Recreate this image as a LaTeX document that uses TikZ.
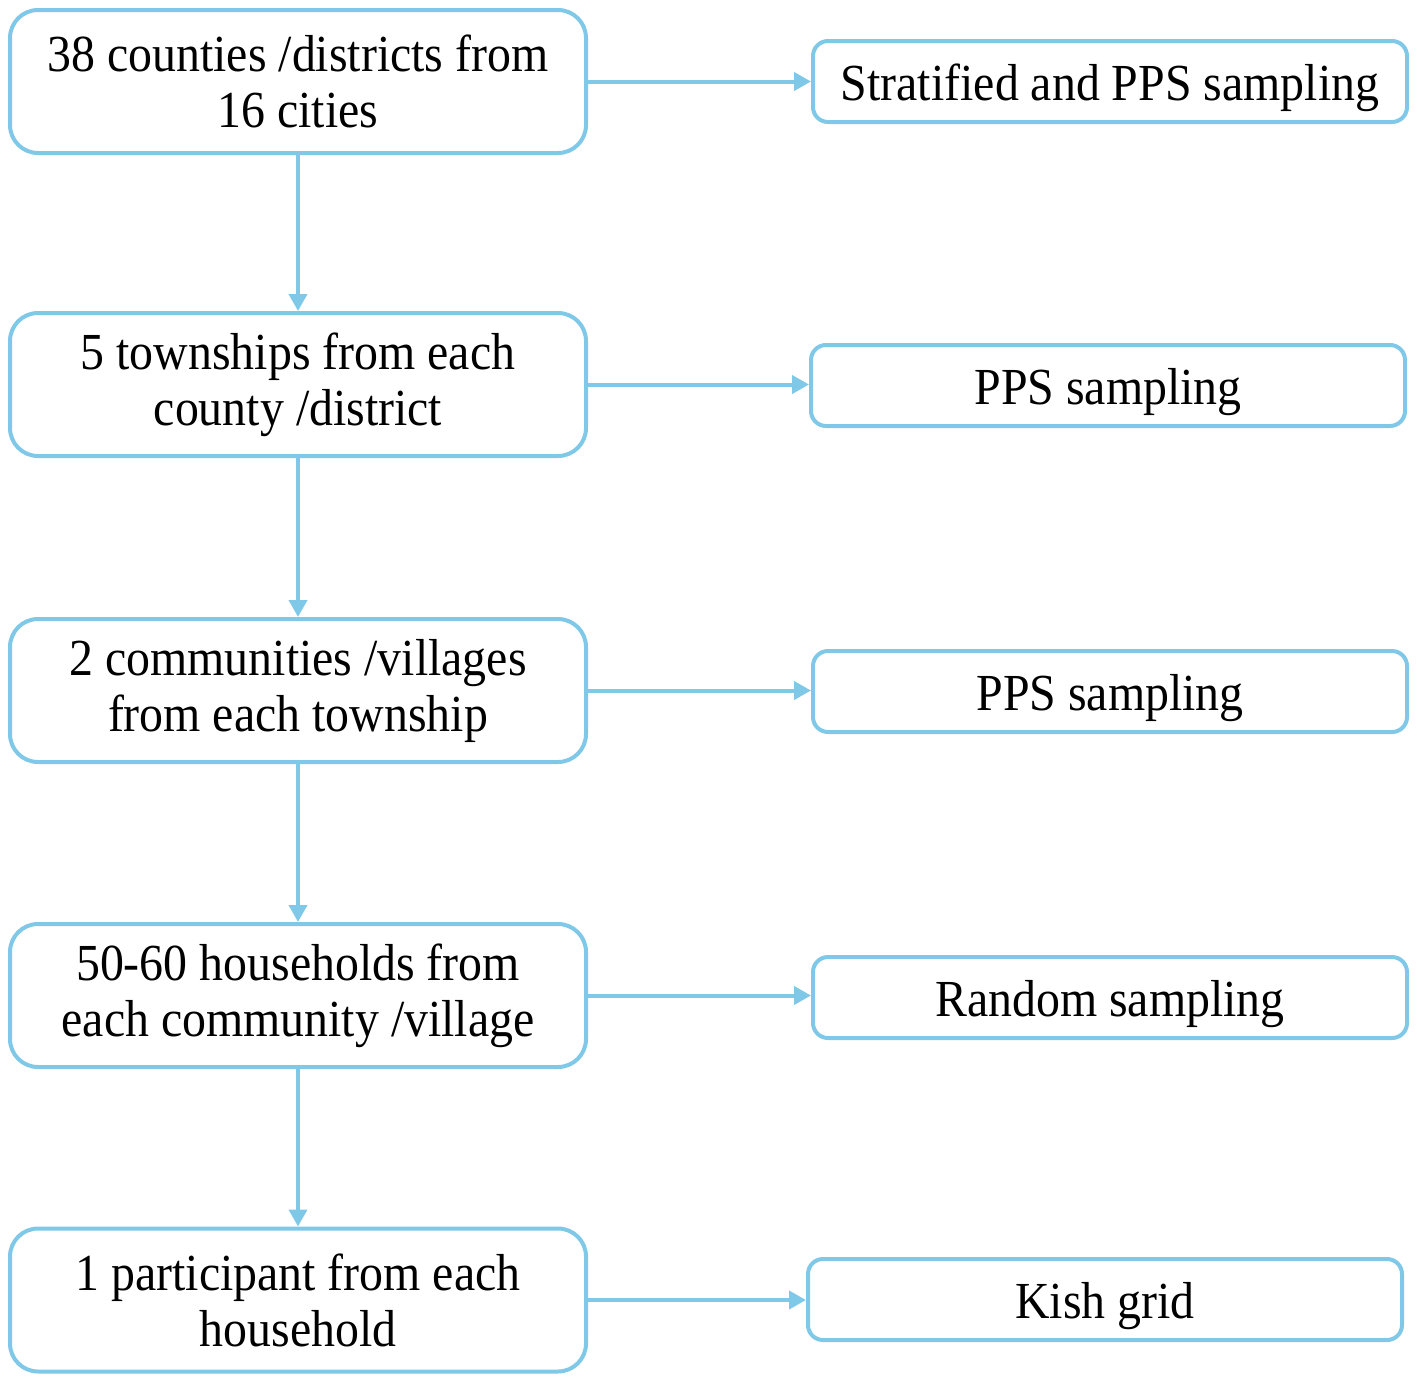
\documentclass[tikz,border=0pt]{standalone}
\usepackage{fontspec}
\setmainfont{Liberation Serif}[FakeStretch=0.92]
\usetikzlibrary{arrows.meta}
\definecolor{lineblue}{RGB}{128,200,232}
\begin{document}
\begin{tikzpicture}[x=1pt,y=-1pt,
  lbox/.style={draw=lineblue,line width=4pt,rounded corners=28pt,minimum width=576pt,minimum height=143pt,inner sep=0pt,align=center,
    font=\fontsize{52}{56}\selectfont},
  rbox/.style={draw=lineblue,line width=4pt,rounded corners=15pt,minimum width=594pt,minimum height=81pt,inner sep=0pt,align=center,
    text height=37pt,text depth=0pt,font=\fontsize{52}{56}\selectfont},
  conn/.style={draw=lineblue,line width=4pt,-{Triangle[length=17pt,width=18pt]}}]
\useasboundingbox (0,0) rectangle (1417,1382);
\node[lbox] (l1) at (298,81.5) {38 counties /districts from\\16 cities};
\node[lbox] (l2) at (298,384.5) {5 townships from each\\county /district};
\node[lbox] (l3) at (298,690.5) {2 communities /villages\\from each township};
\node[lbox] (l4) at (298,995.5) {50-60 households from\\each community /village};
\node[lbox] (l5) at (298,1300) {1 participant from each\\household};
\node[rbox] (r1) at (1110,81.5) {Stratified and PPS sampling};
\node[rbox] (r2) at (1108,385.5) {PPS sampling};
\node[rbox] (r3) at (1110,691.5) {PPS sampling};
\node[rbox] (r4) at (1110,997.5) {Random sampling};
\node[rbox] (r5) at (1105,1299.5) {Kish grid};
\foreach \i in {1,...,5}{
  \draw[conn] (l\i.east) -- (l\i.east -| r\i.west);
}
\foreach \i/\j in {1/2,2/3,3/4,4/5}{
  \draw[conn] (l\i.south) -- (l\j.north);
}
\end{tikzpicture}
\end{document}
